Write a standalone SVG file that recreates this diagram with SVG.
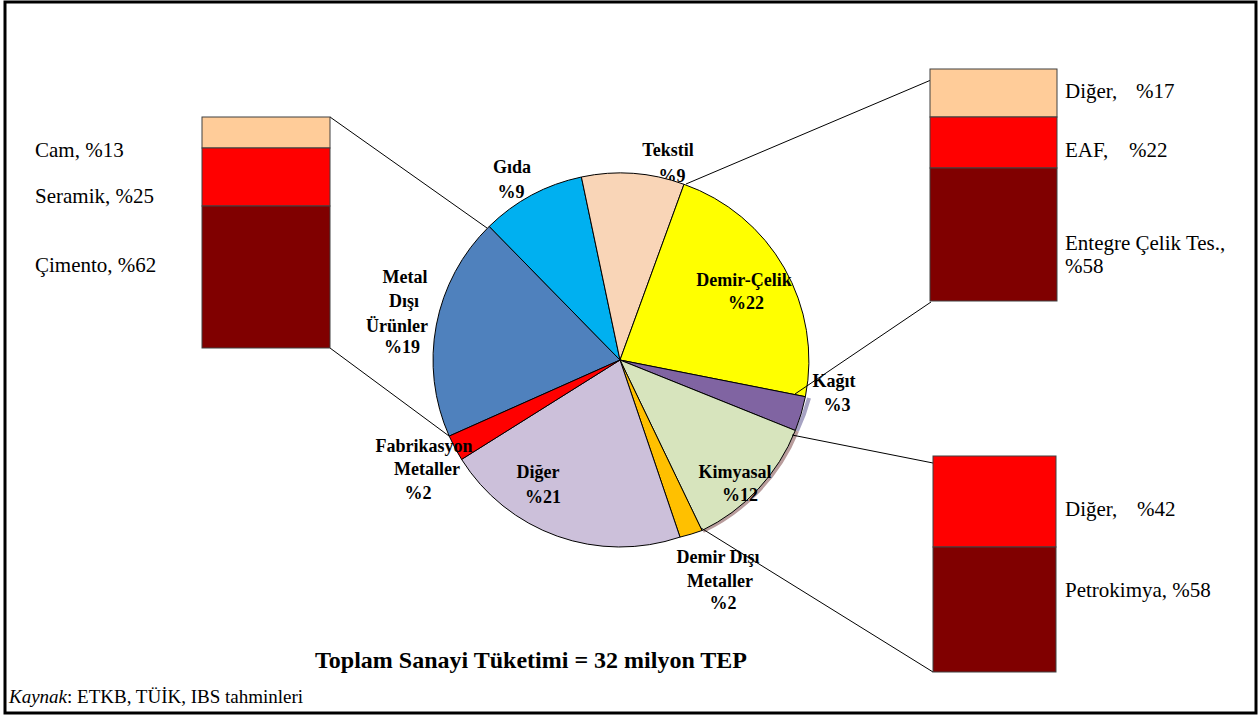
<svg xmlns="http://www.w3.org/2000/svg" width="1258" height="717" viewBox="0 0 1258 717">
<style>
.bl{font-family:"Liberation Serif","Times New Roman",serif;font-size:18px;font-weight:bold;fill:#000;text-anchor:middle}
.tx{font-family:"Liberation Serif","Times New Roman",serif;font-size:21px;fill:#000}
.sl{stroke:#000;stroke-width:1}
.cn{stroke:#000;stroke-width:1;fill:none}
.bx{stroke:#404040;stroke-width:1}
</style>
<rect x="0" y="0" width="1258" height="717" fill="#fff"/>
<rect x="5" y="2" width="1251" height="711" fill="none" stroke="#000" stroke-width="3"/>

<g id="label-tekstil">
<text class="bl" x="668" y="156">Tekstil</text>
<text class="bl" x="672" y="182">%9</text>
</g>

<g id="pie">
<path d="M809,398 A190,190 0 0 1 797,431" fill="none" stroke="#a7a3c3" stroke-width="4"/>
<path d="M797,431 A190,190 0 0 1 703,531" fill="none" stroke="#b89c9c" stroke-width="4"/>
<path id="s-metal" class="sl" fill="#4F81BD" d="M620,360 L449.2,436.1 A187,187 0 0 1 489.2,226.4 Z"/>
<path id="s-gida" class="sl" fill="#00B0F0" d="M620,360 L489.2,226.4 A187,187 0 0 1 581.4,177.0 Z"/>
<path id="s-tekstil" class="sl" fill="#F9D5B7" d="M620,360 L581.4,177.0 A187,187 0 0 1 684.0,184.3 Z"/>
<path id="s-demir" class="sl" fill="#FFFF00" d="M620,360 L684.0,184.3 A187,187 0 0 1 805.4,396.7 Z"/>
<path id="s-kagit" class="sl" fill="#8064A2" d="M620,360 L805.4,396.7 A189,189 0 0 1 795.3,430.5 Z"/>
<path id="s-kimyasal" class="sl" fill="#D7E4BD" d="M620,360 L795.3,430.5 A189,189 0 0 1 702.0,530.5 Z"/>
<path id="s-demirdisi" class="sl" fill="#FFC000" d="M620,360 L702.0,530.5 A187,187 0 0 1 680.0,537.1 Z"/>
<path id="s-diger" class="sl" fill="#CCC0DA" d="M620,360 L680.0,537.1 A187,187 0 0 1 461.6,459.4 Z"/>
<path id="s-fab" class="sl" fill="#FF0000" d="M620,360 L461.6,459.4 A187,187 0 0 1 449.2,436.1 Z"/>
</g>

<g id="connectors">
<line class="cn" x1="330" y1="117" x2="487" y2="228"/>
<line class="cn" x1="330" y1="348" x2="449" y2="436"/>
<line class="cn" x1="931" y1="80" x2="686" y2="184"/>
<line class="cn" x1="931" y1="302" x2="795" y2="394"/>
<line class="cn" x1="933" y1="463" x2="792" y2="435"/>
<line class="cn" x1="933" y1="672" x2="701" y2="528"/>
</g>

<g id="label-gida">
<text class="bl" x="512" y="173">Gıda</text>
<text class="bl" x="511" y="198">%9</text>
</g>
<g id="label-demircelik">
<text class="bl" x="744" y="286">Demir-Çelik</text>
<text class="bl" x="746" y="309">%22</text>
</g>
<g id="label-kagit">
<text class="bl" x="834" y="387">Kağıt</text>
<text class="bl" x="837" y="411">%3</text>
</g>
<g id="label-kimyasal">
<text class="bl" x="735" y="478">Kimyasal</text>
<text class="bl" x="740" y="501">%12</text>
</g>
<g id="label-diger">
<text class="bl" x="538" y="478">Diğer</text>
<text class="bl" x="543" y="503">%21</text>
</g>
<g id="label-metal">
<text class="bl" x="405" y="283">Metal</text>
<text class="bl" x="404" y="307">Dışı</text>
<text class="bl" x="397" y="332">Ürünler</text>
<text class="bl" x="402" y="353">%19</text>
</g>
<g id="label-fab">
<text class="bl" x="424" y="452">Fabrikasyon</text>
<text class="bl" x="427" y="475">Metaller</text>
<text class="bl" x="418" y="499">%2</text>
</g>
<g id="label-demirdisi">
<text class="bl" x="718" y="563">Demir Dışı</text>
<text class="bl" x="720" y="587">Metaller</text>
<text class="bl" x="723" y="609">%2</text>
</g>

<g id="box-left">
<rect class="bx" x="202" y="117" width="128" height="31" fill="#FFCC99"/>
<rect class="bx" x="202" y="148" width="128" height="58" fill="#FF0000"/>
<rect class="bx" x="202" y="206" width="128" height="142" fill="#800000"/>
<text class="tx" x="35" y="157">Cam, %13</text>
<text class="tx" x="35" y="203">Seramik, %25</text>
<text class="tx" x="35" y="272">Çimento, %62</text>
</g>

<g id="box-right-top">
<rect class="bx" x="930" y="69" width="127" height="48" fill="#FFCC99"/>
<rect class="bx" x="930" y="117" width="127" height="51" fill="#FF0000"/>
<rect class="bx" x="930" y="168" width="127" height="133" fill="#800000"/>
<text class="tx" x="1065" y="98">Diğer,</text>
<text class="tx" x="1136" y="98">%17</text>
<text class="tx" x="1065" y="157">EAF,</text>
<text class="tx" x="1129" y="157">%22</text>
<text class="tx" x="1065" y="250">Entegre Çelik Tes.,</text>
<text class="tx" x="1065" y="273">%58</text>
</g>

<g id="box-right-bottom">
<rect class="bx" x="933" y="456" width="123" height="91" fill="#FF0000"/>
<rect class="bx" x="933" y="547" width="123" height="125" fill="#800000"/>
<text class="tx" x="1065" y="516">Diğer,</text>
<text class="tx" x="1137" y="516">%42</text>
<text class="tx" x="1065" y="597">Petrokimya, %58</text>
</g>

<g id="footer">
<text x="531" y="668" font-family="Liberation Serif, Times New Roman, serif" font-size="24" font-weight="bold" text-anchor="middle">Toplam Sanayi Tüketimi = 32 milyon TEP</text>
<text x="9" y="703" font-family="Liberation Serif, Times New Roman, serif" font-size="19"><tspan font-style="italic">Kaynak</tspan>:  ETKB, TÜİK, IBS tahminleri</text>
</g>
</svg>
